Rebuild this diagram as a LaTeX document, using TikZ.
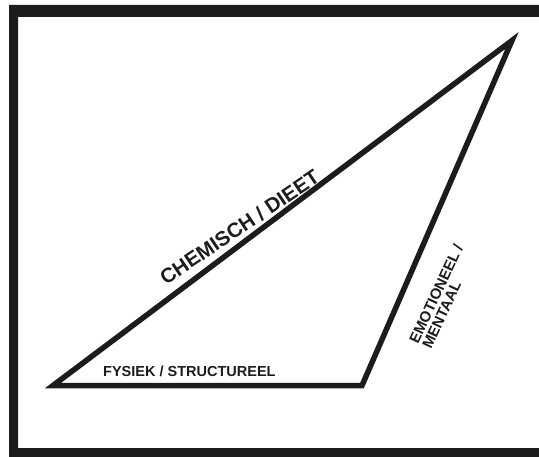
\documentclass[tikz,border=0pt]{standalone}
\usepackage{fontspec}
\setmainfont{Liberation Sans}
\definecolor{ink}{HTML}{1C1C1C}
\tikzset{
  edge/.style={draw=ink, line width=5.5pt, line join=miter},
  lbl/.style={text=ink, font=\bfseries, inner sep=0pt, anchor=base west}
}
\begin{document}
\begin{tikzpicture}[x=1pt,y=1pt]
\useasboundingbox (0,0) rectangle (539,456);
\fill[ink, even odd rule] (9,-10) rectangle (560,451) (18,8) rectangle (551,439);
\coordinate (A) at (53,70.5);
\coordinate (B) at (362,70.5);
\coordinate (C) at (512,415.5);
\draw[edge] (A) -- (B) -- (C) -- cycle;
\node[lbl, font=\bfseries\fontsize{20.5}{23}\selectfont, rotate=34] (chem) at (166,170.5) {CHEMISCH / DIEET};
\node[lbl, font=\bfseries\fontsize{14.5}{17}\selectfont] (fys) at (103,79) {FYSIEK / STRUCTUREEL};
\node[lbl, font=\bfseries\fontsize{15}{17}\selectfont, rotate=65] (emo1) at (418,111) {EMOTIONEEL /};
\node[lbl, font=\bfseries\fontsize{15}{17}\selectfont, rotate=65] (emo2) at (431,106) {MENTAAL};
\end{tikzpicture}
\end{document}
